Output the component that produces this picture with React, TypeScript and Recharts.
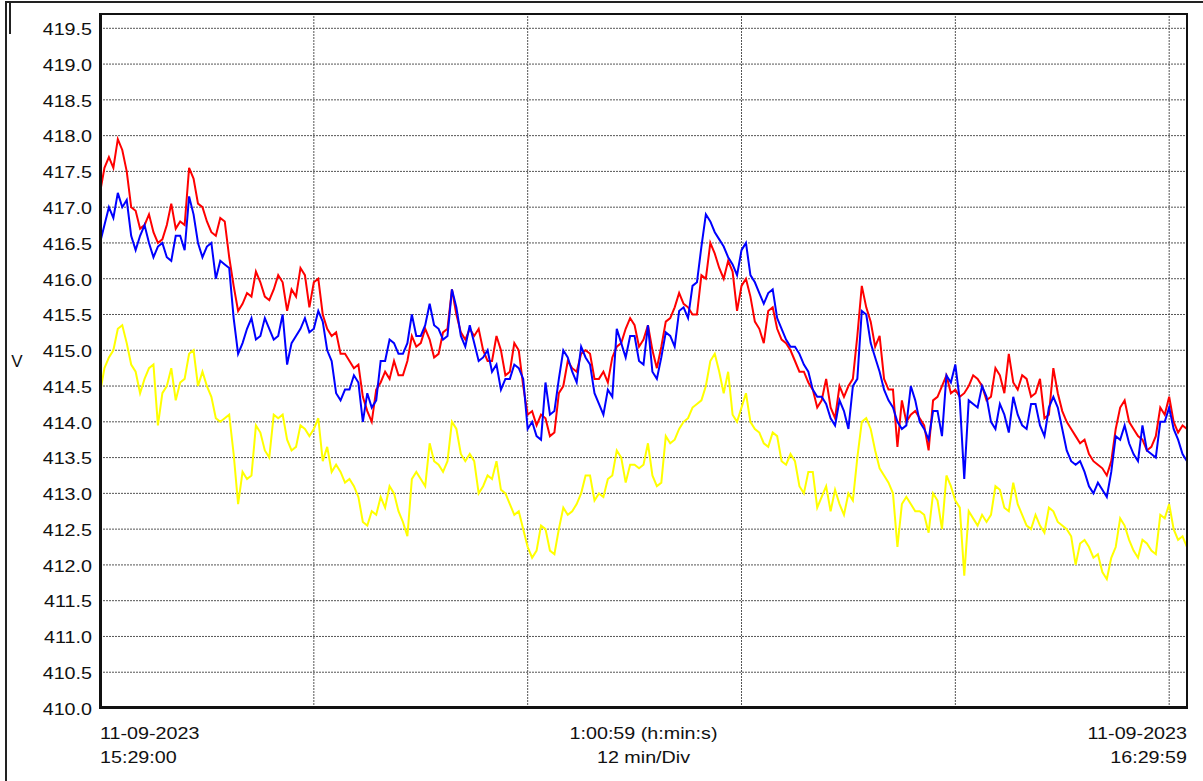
import { LineChart, Line, XAxis, YAxis, CartesianGrid, ReferenceLine } from 'recharts';

// one reading every quarter minute, 15:29:00 .. 16:29:59 (each row = 5 min)
const SAMPLE_MIN = 0.25;

const redPhase = [
  417.2, 417.55, 417.7, 417.55, 417.95, 417.8, 417.5, 417.0, 416.95, 416.7, 416.75, 416.9, 416.65, 416.5, 416.55, 416.75, 417.05, 416.7, 416.8, 416.75,
  417.55, 417.4, 417.05, 417.0, 416.8, 416.65, 416.6, 416.85, 416.8, 416.3, 415.9, 415.55, 415.65, 415.8, 415.75, 416.1, 415.95, 415.75, 415.7, 415.85,
  416.05, 415.95, 415.55, 415.85, 415.75, 416.15, 416.05, 415.6, 415.95, 416.0, 415.5, 415.3, 415.2, 415.25, 414.95, 414.95, 414.85, 414.75, 414.8, 414.35,
  414.15, 414.0, 414.45, 414.55, 414.7, 414.6, 414.85, 414.65, 414.65, 414.85, 415.2, 415.05, 415.1, 415.3, 415.15, 414.9, 414.95, 415.25, 415.3, 415.85,
  415.5, 415.25, 415.15, 415.3, 415.2, 415.3, 415.0, 414.85, 414.85, 415.2, 415.0, 414.65, 414.7, 415.1, 415.0, 414.5, 414.1, 414.15, 413.95, 414.1,
  414.05, 413.8, 413.85, 414.4, 414.5, 414.85, 414.75, 414.7, 414.95, 415.0, 414.95, 414.6, 414.6, 414.7, 414.55, 414.9, 415.05, 415.1, 415.3, 415.45,
  415.35, 415.05, 415.15, 415.35, 415.0, 414.75, 415.05, 415.4, 415.45, 415.6, 415.8, 415.65, 415.6, 415.5, 415.5, 416.05, 416.0, 416.5, 416.35, 416.15,
  416.0, 416.25, 416.1, 415.55, 415.9, 416.0, 415.75, 415.4, 415.3, 415.1, 415.55, 415.6, 415.3, 415.15, 415.1, 415.0, 414.85, 414.7, 414.7, 414.55,
  414.45, 414.2, 414.3, 414.6, 414.2, 414.05, 414.5, 414.35, 414.5, 414.6, 415.2, 415.9, 415.6, 415.4, 415.05, 415.2, 414.6, 414.45, 414.45, 413.65,
  414.3, 414.0, 414.1, 414.15, 414.05, 413.95, 413.6, 414.3, 414.35, 414.5, 414.65, 414.4, 414.45, 414.35, 414.4, 414.5, 414.65, 414.6, 414.5, 414.3,
  414.35, 414.75, 414.65, 414.4, 414.95, 414.55, 414.45, 414.65, 414.6, 414.35, 414.4, 414.6, 414.05, 414.1, 414.75, 414.4, 414.15, 414.0, 413.9, 413.8,
  413.7, 413.75, 413.55, 413.45, 413.4, 413.35, 413.25, 413.45, 413.9, 414.2, 414.3, 414.0, 413.9, 413.8, 413.75, 413.6, 413.65, 413.8, 414.2, 414.1,
  414.35, 414.0, 413.85, 413.95, 413.9,
];

const bluePhase = [
  416.5, 416.75, 417.0, 416.85, 417.2, 417.0, 417.1, 416.6, 416.4, 416.6, 416.75, 416.5, 416.3, 416.45, 416.5, 416.3, 416.25, 416.6, 416.6, 416.4,
  417.15, 416.9, 416.5, 416.3, 416.45, 416.5, 416.0, 416.25, 416.2, 416.15, 415.45, 414.95, 415.1, 415.3, 415.45, 415.15, 415.2, 415.45, 415.3, 415.15,
  415.2, 415.5, 414.8, 415.1, 415.2, 415.3, 415.45, 415.25, 415.3, 415.55, 415.4, 415.0, 414.85, 414.4, 414.3, 414.45, 414.45, 414.65, 414.55, 414.0,
  414.4, 414.2, 414.3, 414.85, 414.85, 415.15, 415.1, 414.95, 414.95, 415.1, 415.5, 415.2, 415.2, 415.35, 415.65, 415.35, 415.3, 415.15, 415.2, 415.85,
  415.6, 415.2, 415.05, 415.35, 415.1, 414.85, 414.9, 415.0, 414.7, 414.8, 414.45, 414.6, 414.6, 414.8, 414.75, 414.6, 413.9, 414.0, 413.8, 413.75,
  414.55, 414.1, 414.15, 414.6, 415.0, 414.9, 414.7, 414.55, 415.05, 414.9, 414.8, 414.4, 414.25, 414.1, 414.45, 414.35, 415.3, 415.1, 414.9, 415.2,
  415.2, 414.85, 414.8, 415.35, 414.7, 414.6, 414.9, 415.25, 415.2, 415.05, 415.55, 415.6, 415.45, 415.9, 415.95, 416.45, 416.9, 416.8, 416.65, 416.55,
  416.45, 416.3, 416.2, 416.05, 416.4, 416.5, 416.05, 415.95, 415.8, 415.65, 415.8, 415.85, 415.45, 415.3, 415.15, 415.05, 415.05, 414.95, 414.8, 414.7,
  414.45, 414.35, 414.35, 414.25, 414.05, 413.95, 414.3, 414.15, 413.9, 414.5, 414.6, 415.55, 415.5, 415.1, 414.9, 414.7, 414.45, 414.3, 414.2, 414.0,
  413.9, 413.95, 414.5, 414.3, 414.0, 413.9, 413.75, 414.15, 414.15, 413.8, 414.65, 414.55, 414.8, 414.3, 413.2, 414.3, 414.25, 414.2, 414.5, 414.35,
  414.0, 413.9, 414.25, 414.1, 413.85, 414.35, 414.1, 413.95, 413.9, 414.25, 414.25, 413.95, 413.8, 414.2, 414.35, 414.2, 413.9, 413.6, 413.45, 413.4,
  413.45, 413.3, 413.1, 413.0, 413.15, 413.05, 412.95, 413.3, 413.8, 413.75, 413.95, 413.7, 413.55, 413.45, 413.95, 413.6, 413.55, 413.5, 414.0, 414.0,
  414.2, 413.9, 413.75, 413.55, 413.45,
];

const yellowPhase = [
  414.4, 414.75, 414.9, 415.0, 415.3, 415.35, 415.1, 414.8, 414.7, 414.4, 414.6, 414.75, 414.8, 413.95, 414.4, 414.5, 414.75, 414.3, 414.55, 414.6,
  414.95, 415.0, 414.5, 414.7, 414.5, 414.35, 414.05, 414.0, 414.05, 414.1, 413.55, 412.85, 413.3, 413.2, 413.25, 413.95, 413.85, 413.6, 413.5, 414.1,
  414.05, 414.1, 413.75, 413.6, 413.65, 413.95, 413.9, 413.8, 413.9, 414.05, 413.45, 413.65, 413.3, 413.4, 413.3, 413.15, 413.2, 413.1, 412.95, 412.6,
  412.55, 412.75, 412.7, 412.95, 412.8, 413.1, 413.0, 412.75, 412.6, 412.4, 413.2, 413.3, 413.2, 413.1, 413.7, 413.45, 413.4, 413.3, 413.45, 414.0,
  413.9, 413.55, 413.45, 413.55, 413.45, 413.0, 413.1, 413.25, 413.2, 413.45, 413.05, 413.0, 412.85, 412.7, 412.75, 412.5, 412.25, 412.1, 412.2, 412.55,
  412.5, 412.2, 412.15, 412.5, 412.8, 412.7, 412.75, 412.85, 413.0, 413.25, 413.25, 412.9, 413.0, 412.95, 413.2, 413.25, 413.6, 413.5, 413.15, 413.4,
  413.4, 413.35, 413.4, 413.7, 413.25, 413.1, 413.15, 413.8, 413.7, 413.75, 413.9, 414.0, 414.05, 414.2, 414.25, 414.3, 414.5, 414.85, 414.95, 414.7,
  414.4, 414.7, 414.1, 414.0, 414.2, 414.4, 414.0, 413.9, 413.85, 413.7, 413.65, 413.85, 413.8, 413.45, 413.4, 413.55, 413.45, 413.1, 413.0, 413.3,
  413.3, 412.8, 412.95, 413.1, 412.75, 413.05, 412.85, 412.7, 413.0, 412.9, 413.5, 414.0, 414.05, 413.9, 413.6, 413.35, 413.25, 413.15, 413.0, 412.25,
  412.85, 412.95, 412.85, 412.75, 412.75, 412.7, 412.45, 413.0, 412.9, 412.5, 413.25, 413.1, 412.9, 412.8, 411.85, 412.75, 412.65, 412.55, 412.7, 412.6,
  412.7, 413.1, 413.05, 412.8, 412.75, 413.15, 412.85, 412.7, 412.55, 412.5, 412.7, 412.55, 412.45, 412.8, 412.75, 412.6, 412.55, 412.5, 412.4, 412.0,
  412.3, 412.35, 412.25, 412.1, 412.15, 411.9, 411.8, 412.1, 412.25, 412.65, 412.55, 412.35, 412.2, 412.1, 412.35, 412.3, 412.2, 412.15, 412.7, 412.65,
  412.85, 412.5, 412.35, 412.4, 412.25,
];

const voltTicks = [
  410.0, 410.5, 411.0, 411.5, 412.0, 412.5, 413.0, 413.5, 414.0, 414.5,
  415.0, 415.5, 416.0, 416.5, 417.0, 417.5, 418.0, 418.5, 419.0, 419.5,
];
const divMinutes = [12, 24, 36, 48, 60];
const spanMinutes = 61;

const startLabel = ['11-09-2023', '15:29:00'];
const midLabel = ['1:00:59 (h:min:s)', '12 min/Div'];
const endLabel = ['11-09-2023', '16:29:59'];

const data = redPhase.map((r, i) => ({
  t: i * SAMPLE_MIN,
  red: r,
  blue: bluePhase[i],
  yellow: yellowPhase[i],
}));

const FONT = '"Liberation Sans", Arial, sans-serif';
const STRETCH = 'scale(1.16,1)';

const VoltTick = ({ x, y, payload }: any) => (
  <g transform={`translate(${x},${y})`}>
    <text transform={STRETCH} textAnchor="end" dy="0.4em" fontSize={17} fill="#111" fontFamily={FONT}>
      {Number(payload.value).toFixed(1)}
    </text>
  </g>
);

const TimeTick = ({ x, y, payload }: any) => {
  let lines = midLabel;
  let anchor = 'middle';
  if (payload.value === 0) {
    lines = startLabel;
    anchor = 'start';
  } else if (payload.value === spanMinutes) {
    lines = endLabel;
    anchor = 'end';
  }
  return (
    <g transform={`translate(${x},${y})`}>
      <text transform={STRETCH} textAnchor={anchor} fontSize={17} fill="#111" fontFamily={FONT}>
        <tspan x={0} dy={23}>{lines[0]}</tspan>
        <tspan x={0} dy={24}>{lines[1]}</tspan>
      </text>
    </g>
  );
};

const UnitLabel = ({ viewBox }: any) => (
  <text x={viewBox.x + 17} y={viewBox.y + viewBox.height / 2} dy="0.35em" textAnchor="middle" fontSize={17} fill="#111" fontFamily={FONT}>
    V
  </text>
);

export default function App() {
  return (
    <div style={{ position: 'absolute', left: 0, top: 0, width: 1203, height: 781, background: '#fff', overflow: 'hidden' }}>
      <div style={{ position: 'absolute', left: 5, top: 1, width: 1400, height: 1000, borderLeft: '2px solid #222', borderTop: '2px solid #222' }} />
      <div style={{ position: 'absolute', left: 9, top: 3, width: 2, height: 31, background: '#222' }} />
      <LineChart width={1203} height={781} data={data} margin={{ top: 14, right: 16, bottom: 13, left: 0 }}>
        <CartesianGrid vertical={false} stroke="#555" strokeDasharray="2 1" />
        {divMinutes.map((m) => (
          <ReferenceLine key={m} x={m} stroke="#555" strokeDasharray="2 1" ifOverflow="visible" />
        ))}
        <XAxis
          dataKey="t"
          type="number"
          domain={[0, spanMinutes]}
          ticks={[0, spanMinutes / 2, spanMinutes]}
          tick={<TimeTick />}
          height={60}
          axisLine={false}
          tickLine={false}
          interval={0}
        />
        <YAxis
          type="number"
          domain={[410, 419.7]}
          ticks={voltTicks}
          tick={<VoltTick />}
          width={100}
          axisLine={false}
          tickLine={false}
          interval={0}
          allowDataOverflow
          label={<UnitLabel />}
        />
        <Line dataKey="yellow" stroke="#ffff00" strokeWidth={2} dot={false} isAnimationActive={false} />
        <Line dataKey="red" stroke="#ff0000" strokeWidth={2} dot={false} isAnimationActive={false} />
        <Line dataKey="blue" stroke="#0000ff" strokeWidth={2} dot={false} isAnimationActive={false} />
      </LineChart>
      <div
        style={{
          position: 'absolute',
          left: 99,
          top: 13,
          width: 1089,
          height: 696,
          boxSizing: 'border-box',
          borderTop: '2px solid #111',
          borderRight: '2px solid #111',
          borderLeft: '3px solid #111',
          borderBottom: '3px solid #111',
          pointerEvents: 'none',
        }}
      />
    </div>
  );
}
